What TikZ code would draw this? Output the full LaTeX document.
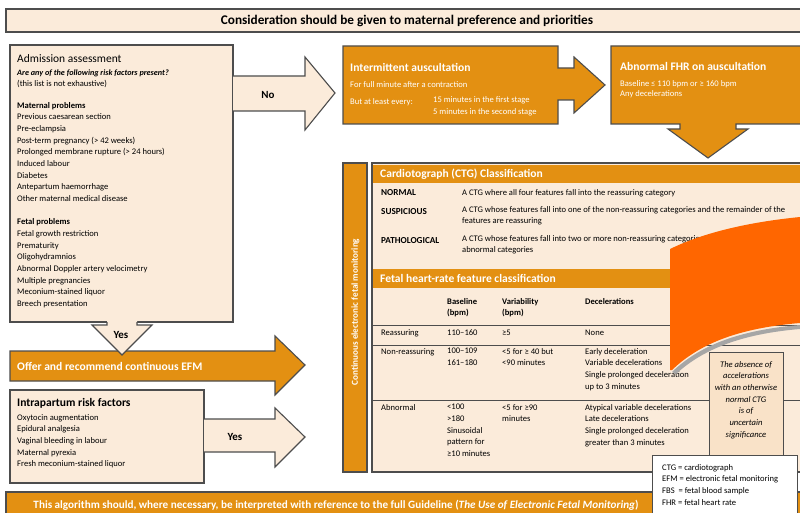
\documentclass[tikz,border=0pt]{standalone}
\usepackage{fontspec}
\setmainfont{Carlito}
\usetikzlibrary{positioning}

\definecolor{peach}{RGB}{251,235,218}
\definecolor{efmorange}{RGB}{227,144,18}
\definecolor{swoosh}{RGB}{255,102,0}
\definecolor{accbox}{RGB}{249,226,200}
\definecolor{edge}{RGB}{77,77,77}

\begin{document}
\begin{tikzpicture}[x = 1bp, y = -1bp,
	box/.style = {fill = peach, draw = edge, line width = 1.1bp},
	orangebox/.style = {fill = efmorange, draw = edge, line width = 1.1bp},
	txt/.style = {anchor = west, inner sep = 0pt, align = left},
	whitetxt/.style = {txt, text = white},
	headfont/.style = {font = \fontsize{11.6}{13}\selectfont\bfseries},
	listfont/.style = {font = \fontsize{8.6}{11.7}\selectfont},
	cellfont/.style = {font = \fontsize{8.6}{11.7}\selectfont},
	cellbold/.style = {font = \fontsize{8.6}{11.7}\selectfont\bfseries},
	classfont/.style = {font = \fontsize{9.2}{11.7}\selectfont\bfseries},
	yesno/.style = {font = \fontsize{11}{13}\selectfont\bfseries}]

	\useasboundingbox (0, 0) rectangle (800, 513);
	\clip (0, 0) rectangle (800, 513);

	% Banner at the top

	\draw [box] (6, 9) rectangle (810, 32);
	\node [font = \fontsize{13.3}{15}\selectfont\bfseries] (pref) at (407, 20.5) {Consideration should be given to maternal preference and priorities};

	% Admission assessment

	\draw [box] (10, 45) rectangle (233, 322);
	\draw [box] (233, 76) -- (305, 76) -- (305, 57) -- (335, 93) -- (305, 130) -- (305, 111) -- (233, 111);
	\node [txt, font = \fontsize{11.5}{13}\selectfont] (admit) at (17, 59) {Admission assessment};
	\node [txt, font = \fontsize{8.2}{11.7}\selectfont\bfseries\itshape] (ask) at (17, 73) {Are any of the following risk factors present?};
	\node [txt, listfont] (exh) at (17, 84) {(this list is not exhaustive)};
	\node [txt, listfont, anchor = north west] (risks) at (17, 102) {%
		\textbf{Maternal problems}\\
		Previous caesarean section\\
		Pre-eclampsia\\
		Post-term pregnancy (> 42 weeks)\\
		Prolonged membrane rupture (> 24 hours)\\
		Induced labour\\
		Diabetes\\
		Antepartum haemorrhage\\
		Other maternal medical disease\\[11.7bp]
		\textbf{Fetal problems}\\
		Fetal growth restriction\\
		Prematurity\\
		Oligohydramnios\\
		Abnormal Doppler artery velocimetry\\
		Multiple pregnancies\\
		Meconium-stained liquor\\
		Breech presentation};
	\node [yesno] (no) at (268, 95) {No};

	% Offer continuous EFM

	\draw [orangebox] (10, 351) -- (275, 351) -- (275, 336) -- (305, 365) -- (275, 395) -- (275, 381) -- (10, 381) -- cycle;
	\node [whitetxt, headfont] (offer) at (17, 366) {Offer and recommend continuous EFM};

	% Yes arrow below the admission box

	\fill [peach] (107, 320) -- (107, 325) -- (92, 325) -- (122, 355) -- (152, 325) -- (137, 325) -- (137, 320) -- cycle;
	\draw [edge, line width = 1.1bp] (107, 322) -- (107, 325) -- (92, 325) -- (122, 355) -- (152, 325) -- (137, 325) -- (137, 322);
	\node [yesno] (yesa) at (121, 335) {Yes};

	% Intrapartum risk factors

	\draw [box] (10, 390) rectangle (204, 483);
	\draw [box] (204, 419) -- (275, 419) -- (275, 408) -- (305, 437) -- (275, 467) -- (275, 452) -- (204, 452);
	\node [txt, headfont] (intra) at (17, 403) {Intrapartum risk factors};
	\node [txt, listfont, anchor = north west] (irisks) at (17, 414) {%
		Oxytocin augmentation\\
		Epidural analgesia\\
		Vaginal bleeding in labour\\
		Maternal pyrexia\\
		Fresh meconium-stained liquor};
	\node [yesno] (yesb) at (235, 437) {Yes};

	% Intermittent auscultation

	\draw [orangebox] (343, 46) -- (558, 46) -- (558, 68) -- (574, 68) -- (574, 57) -- (605, 85) -- (574, 113) -- (574, 100) -- (558, 100) -- (558, 124) -- (343, 124) -- cycle;
	\node [whitetxt, headfont] (ia) at (350, 67) {Intermittent auscultation};
	\node [whitetxt, cellfont] (iafull) at (350, 85) {For full minute after a contraction};
	\node [whitetxt, cellfont] (iaevery) at (350, 102) {But at least every:};
	\node [whitetxt, cellfont, anchor = north west] (iastage) at (433, 96.5) {15 minutes in the first stage\\5 minutes in the second stage};

	% Abnormal FHR on auscultation

	\draw [orangebox] (611, 46) -- (810, 46) -- (810, 124) -- (736, 124) -- (736, 129) -- (748, 129) -- (708, 158) -- (668, 129) -- (680, 129) -- (680, 124) -- (611, 124) -- cycle;
	\node [whitetxt, headfont] (afhr) at (620, 66) {Abnormal FHR on auscultation};
	\node [whitetxt, cellfont, anchor = north west] (afhrtxt) at (620, 80) {Baseline ≤ 110 bpm or ≥ 160 bpm\\[-1bp]Any decelerations};

	% Continuous EFM bar

	\draw [orangebox] (343, 163) rectangle (367, 472);
	\node [text = white, rotate = 90, font = \fontsize{9.2}{11}\selectfont\bfseries] (cefm) at (355.5, 312) {Continuous electronic fetal monitoring};

	% CTG classification panel

	\draw [box] (372, 163) rectangle (810, 472);
	\fill [efmorange] (373, 165) rectangle (810, 183);
	\fill [efmorange] (373, 269) rectangle (810, 288);
	\node [whitetxt, headfont] (ctg) at (380, 174) {Cardiotograph (CTG) Classification};
	\node [txt, classfont] (normal) at (381, 193) {NORMAL};
	\node [txt, cellfont] (normtxt) at (462, 193) {A CTG where all four features fall into the reassuring category};
	\node [txt, classfont] (susp) at (381, 212) {SUSPICIOUS};
	\node [txt, cellfont, anchor = north west] (susptxt) at (462, 206) {A CTG whose features fall into one of the non-reassuring categories and the remainder of the\\features are reassuring};
	\node [txt, classfont] (path) at (381, 241) {PATHOLOGICAL};
	\node [txt, cellfont, anchor = north west] (pathtxt) at (462, 235) {A CTG whose features fall into two or more non-reassuring categories or one or more\\abnormal categories};

	% Fetal heart-rate feature table

	\node [whitetxt, headfont] (fhr) at (380, 278.5) {Fetal heart-rate feature classification};
	\node [txt, cellbold, anchor = north west] (hbase) at (447, 298) {Baseline\\(bpm)};
	\node [txt, cellbold, anchor = north west] (hvar) at (502, 298) {Variability\\(bpm)};
	\node [txt, cellbold, anchor = north west] (hdec) at (585, 298) {Decelerations};
	\foreach \y in {325, 345, 400}
		\draw [edge, line width = 0.8bp] (372, \y) -- (810, \y);

	\node [txt, cellfont] (reass) at (381, 333) {Reassuring};
	\node [txt, cellfont] (rbase) at (447, 333) {110–160};
	\node [txt, cellfont] (rvar) at (502, 333) {≥5};
	\node [txt, cellfont] (rdec) at (585, 333) {None};

	\node [txt, cellfont, anchor = north west] (nonre) at (381, 348) {Non-reassuring};
	\node [txt, cellfont, anchor = north west] (nbase) at (447, 348) {100–109\\161–180};
	\node [txt, cellfont, anchor = north west] (nvar) at (502, 348) {<5 for ≥ 40 but\\<90 minutes};
	\node [txt, cellfont, anchor = north west] (ndec) at (585, 348) {Early deceleration\\Variable decelerations\\Single prolonged deceleration\\up to 3 minutes};

	\node [txt, cellfont, anchor = north west] (abn) at (381, 404) {Abnormal};
	\node [txt, cellfont, anchor = north west] (abase) at (447, 404) {<100\\>180\\Sinusoidal\\pattern for\\≥10 minutes};
	\node [txt, cellfont, anchor = north west] (avar) at (502, 404) {<5 for ≥90\\minutes};
	\node [txt, cellfont, anchor = north west] (adec) at (585, 404) {Atypical variable decelerations\\Late decelerations\\Single prolonged deceleration\\greater than 3 minutes};

	% Accelerations note

	\draw [fill = accbox, draw = edge, line width = 1bp] (709, 352) rectangle (783, 480);
	\node [inner sep = 0pt, align = center, anchor = north, font = \fontsize{8.6}{11.7}\selectfont\itshape] (accel) at (746, 361) {The absence of\\accelerations\\with an otherwise\\normal CTG\\is of\\uncertain\\significance};

	% Orange swoosh

	\fill [gray!70] (672, 372) .. controls (700, 345) and (740, 330) .. (800, 325) -- (800, 329) .. controls (740, 334) and (702, 350) .. (676, 374) -- cycle;
	\fill [swoosh] (670, 249) .. controls (705, 232) and (750, 222) .. (800, 217) -- (800, 323) .. controls (740, 328) and (700, 343) .. (672, 370) -- (670, 370) -- cycle;

	% Banner at the bottom

	\draw [orangebox] (6, 492) rectangle (810, 520);
	\node [text = white, font = \fontsize{11.2}{13}\selectfont\bfseries] (guide) at (336, 505) {This algorithm should, where necessary, be interpreted with reference to the full Guideline (\textit{The Use of Electronic Fetal Monitoring})};

	% Abbreviations

	\draw [fill = white, draw = edge, line width = 1bp] (652, 455) rectangle (797, 520);
	\node [txt, cellfont, anchor = north west] (abbr) at (662, 464) {CTG = cardiotograph\\EFM = electronic fetal monitoring\\FBS \ = fetal blood sample\\FHR = fetal heart rate};

\end{tikzpicture}
\end{document}
